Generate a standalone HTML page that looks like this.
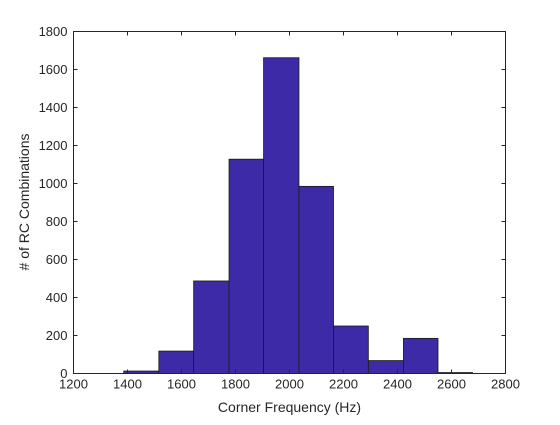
<!DOCTYPE html>
<html><head><meta charset="utf-8"><style>
body{margin:0;background:#fff;}
svg text{font-family:"Liberation Sans",Arial,sans-serif;fill:#262626;}
</style></head><body>
<svg id="chart" width="560" height="420" viewBox="0 0 560 420" xmlns="http://www.w3.org/2000/svg">
<rect width="560" height="420" fill="#fff"/>
<g id="bars"></g>
<g id="axes"></g>
<text x="289.5" y="412" font-size="14" text-anchor="middle">Corner Frequency (Hz)</text>
<text transform="translate(29,202) rotate(-90)" font-size="14" text-anchor="middle"># of RC Combinations</text>
</svg>
<script>
const binEdges = [1386, 1516, 1645, 1776, 1904, 2035, 2163, 2292, 2422, 2550, 2678];
const counts = [13, 118, 487, 1128, 1662, 985, 250, 68, 185, 5];
const xTicks = [1200, 1400, 1600, 1800, 2000, 2200, 2400, 2600, 2800];
const yTicks = [0, 200, 400, 600, 800, 1000, 1200, 1400, 1600, 1800];

const L=73.5,R=505.5,T=31.5,B=373.5;
const xs=v=>L+(v-1200)/1600*(R-L);
const ys=v=>B-v/1800*(B-T);
const NS="http://www.w3.org/2000/svg";
function mk(tag,attrs,parent){const e=document.createElementNS(NS,tag);for(const k in attrs)e.setAttribute(k,attrs[k]);parent.appendChild(e);return e;}
const bars=document.getElementById('bars'),axes=document.getElementById('axes');
counts.forEach((c,i)=>{
  const x0=xs(binEdges[i]),x1=xs(binEdges[i+1]);
  const r=mk('rect',{x:x0,y:ys(c),width:x1-x0,height:B-ys(c),fill:'#3d2aa6',stroke:'#1a1a1a','stroke-width':0.8},bars);
  
  
});
const box=mk('rect',{x:L,y:T,width:R-L,height:B-T,fill:'none',stroke:'#262626','stroke-width':1},axes);


xTicks.forEach(v=>{
  const x=xs(v);
  mk('line',{x1:x,x2:x,y1:B,y2:B-4,stroke:'#262626'},axes);
  mk('line',{x1:x,x2:x,y1:T,y2:T+4,stroke:'#262626'},axes);
  const t=mk('text',{x:x,y:B+15,'font-size':13,'text-anchor':'middle'},axes);
  t.textContent=v;
  
  
});
yTicks.forEach(v=>{
  const y=ys(v);
  mk('line',{x1:L,x2:L+4,y1:y,y2:y,stroke:'#262626'},axes);
  mk('line',{x1:R,x2:R-4,y1:y,y2:y,stroke:'#262626'},axes);
  const t=mk('text',{x:L-6,y:y+4.5,'font-size':13,'text-anchor':'end'},axes);
  t.textContent=v;
  
  
});
</script>
</body></html>
